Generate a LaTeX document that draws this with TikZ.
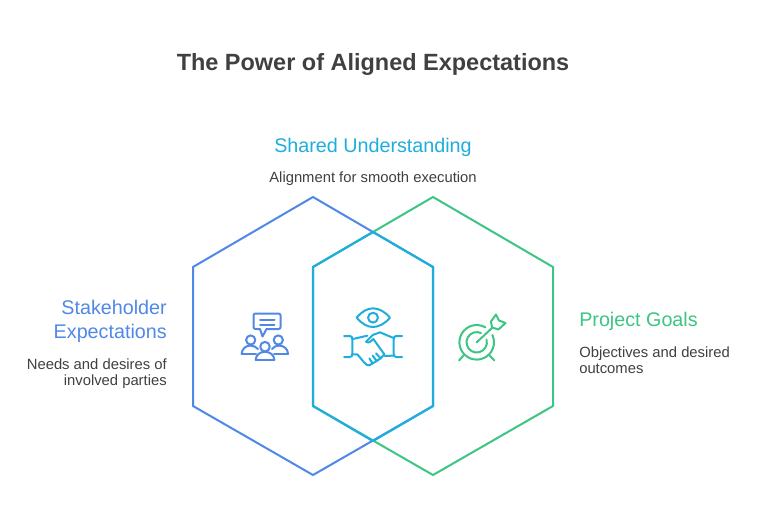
\documentclass[tikz,border=0pt]{standalone}
\usepackage{fontspec}
\setmainfont{Liberation Sans}
\definecolor{cblue}{HTML}{5088E8}
\definecolor{cteal}{HTML}{1FAEDC}
\definecolor{cgreen}{HTML}{3CC583}
\definecolor{cink}{HTML}{404040}
\tikzset{
 hexline/.style={line width=1.5pt,line join=miter},
 icon/.style={line width=1.5pt,line cap=round,line join=round},
 titletext/.style={font=\fontsize{17.6}{22}\selectfont\bfseries,text=cink,anchor=base,inner sep=0pt},
 headtext/.style={font=\fontsize{14.8}{18}\selectfont,inner sep=0pt,anchor=base},
 bodytext/.style={font=\fontsize{11.1}{12}\selectfont,text=cink,inner sep=0pt,anchor=base},
}
\begin{document}
\begin{tikzpicture}[x=0.75pt,y=-0.75pt]
\useasboundingbox (0,0) rectangle (760,524);
\fill[white] (0,0) rectangle (760,524);
% hexagons
\draw[hexline,cblue] (313,197)--(433,267)--(433,406)--(313,475)--(193,406)--(193,267)--cycle;
\draw[hexline,cgreen] (433,197)--(553,267)--(553,406)--(433,475)--(313,406)--(313,267)--cycle;
\draw[hexline,cteal,line width=1.65pt] (373,232)--(433,267)--(433,406)--(373,441)--(313,406)--(313,267)--cycle;
% texts
\node[titletext] (title) at (373,71) {The Power of Aligned Expectations};
\node[headtext,text=cteal] (sharedhead) at (373,152) {Shared Understanding};
\node[bodytext] (sharedbody) at (373,183) {Alignment for smooth execution};
\node[headtext,text=cblue,anchor=base east] (stakeA) at (167,314) {Stakeholder};
\node[headtext,text=cblue,anchor=base east] (stakeB) at (167,338) {Expectations};
\node[bodytext,anchor=base east] (needsA) at (167,369) {Needs and desires of};
\node[bodytext,anchor=base east] (needsB) at (167,385) {involved parties};
\node[headtext,text=cgreen,anchor=base west] (goal) at (579,326) {Project Goals};
\node[bodytext,anchor=base west] (objA) at (579,357) {Objectives and desired};
\node[bodytext,anchor=base west] (objB) at (579,373) {outcomes};
% people icon
\begin{scope}[icon,cblue]
\draw (255.5,313.5) -- (278.5,313.5) .. controls (279.8,313.5) and (280.5,314.2) .. (280.5,315.5) -- (280.5,327) .. controls (280.5,328.3) and (279.8,329) .. (278.5,329) -- (266.5,329) -- (262.5,336.5) -- (260,329) -- (255.5,329) .. controls (254.2,329) and (253.5,328.3) .. (253.5,327) -- (253.5,315.5) .. controls (253.5,314.2) and (254.2,313.5) .. (255.5,313.5) -- cycle;
\draw (260,319.5) -- (274.5,319.5) (260,324.5) -- (274.5,324.5);
\draw (250.7,340) circle (4.6);
\draw (278.3,340) circle (4.6);
\draw (265,346.7) circle (4.8);
\draw (241.7,354) -- (256,354);
\draw (241.7,354) .. controls (241.7,349) and (245.5,345.6) .. (250.5,345.6) .. controls (253.5,345.6) and (256,346.8) .. (258,349);
\draw (288,354) -- (274,354);
\draw (288,354) .. controls (288,349) and (284,345.6) .. (279,345.6) .. controls (276,345.6) and (273.8,346.8) .. (272,349);
\draw (255.7,360) -- (274.3,360);
\draw (255.7,360) .. controls (255.7,355) and (260,351.8) .. (265,351.8) .. controls (270,351.8) and (274.3,355) .. (274.3,360);
\end{scope}
% handshake icon
\begin{scope}[icon,cteal,x=0.25pt,y=-0.25pt,shift={(990,885)}]
\draw (80,68) .. controls (95,50) and (112,40) .. (129,40) .. controls (146,40) and (165,50) .. (180,68) .. controls (165,86) and (146,96) .. (129,96) .. controls (112,96) and (95,86) .. (80,68) -- cycle;
\draw (129,68) circle (3.7pt);
\draw (42,123) -- (60,123) .. controls (65,123) and (67,127) .. (67,133) -- (67,176) .. controls (67,182) and (65,186) .. (60,186) -- (42,186);
\draw (216,123) -- (198,123) .. controls (193,123) and (191,127) .. (191,133) -- (191,176) .. controls (191,182) and (193,186) .. (198,186) -- (216,186);
\draw (68,132) -- (95,126) -- (112,122);
\draw (68,178) -- (82,178) -- (103,203) .. controls (108,209) and (113,212) .. (118,211) -- (128,205) -- (140,198) -- (152,190) -- (163,178) -- (130,132);
\draw (108,140) -- (128,120) -- (150,112) -- (188,128);
\draw (108,140) .. controls (112,144) and (118,143) .. (121,140) -- (130,132);
\draw (188,182) -- (164,183);
\draw (118,190) -- (128,205) (128,182) -- (140,198) (138,175) -- (152,190);
\end{scope}
% target icon
\begin{scope}[icon,cgreen]
\coordinate (targetc) at (476.7,342.3);
\draw (targetc) ++(-25:17.3) arc[start angle=-25,end angle=300,radius=17.3];
\draw (targetc) ++(-15:10.2) arc[start angle=-15,end angle=295,radius=10.2];
\draw (476.5,342.5) -- (492,328);
\draw (491,321.5) -- (496,314.5) -- (499,320.5) -- (505.5,323) -- (498.5,329.5) -- (492,327.5) -- cycle;
\draw (459,360.5) -- (463.5,355.5);
\draw (494.5,360.5) -- (489.5,355.5);
\end{scope}
\end{tikzpicture}
\end{document}
